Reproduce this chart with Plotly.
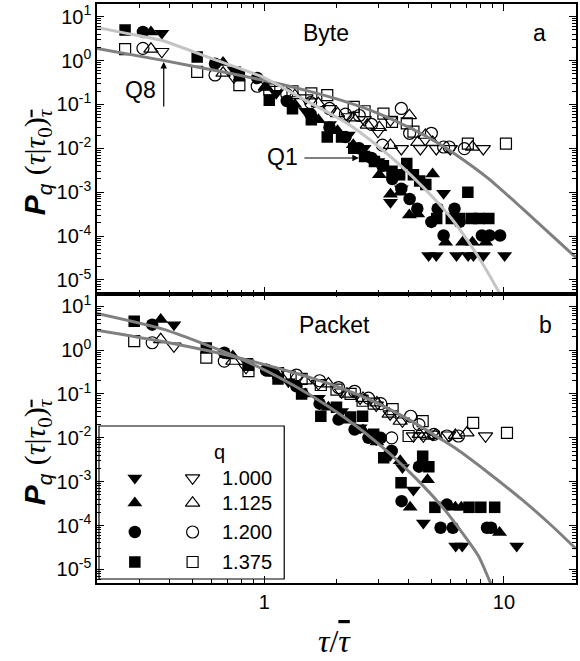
import math
import plotly.graph_objects as go

# ---------------- DATA ----------------
# Panel a: Byte.  Filled = Q1, open = Q8 ; q = 1.000 (down-tri), 1.125 (up-tri), 1.200 (circle), 1.375 (square)
BYTE_F100_X = [0.373, 0.746, 1.12, 1.49, 1.87, 2.24, 2.61, 2.98, 3.36, 3.73, 4.85, 5.22, 5.60, 6.34, 7.09, 7.46, 8.20, 10.07]
BYTE_F100_Y = [4.2, 0.62, 0.18, 0.07, 0.035, 0.02, 0.01, 0.005, 5.9e-4, 1.2e-3, 3.6e-5, 3.6e-5, 9.5e-4, 3.6e-5, 3.6e-5, 3.6e-5, 3.6e-5, 3.6e-5]
BYTE_F1125_X = [0.336, 0.672, 1.01, 1.34, 1.68, 2.02, 2.35, 3.02, 3.36, 3.70, 4.03, 4.37, 5.04, 5.71, 6.72, 7.39, 8.40]
BYTE_F1125_Y = [4.5, 0.9, 0.25, 0.1, 0.045, 0.025, 0.012, 0.0025, 0.0009, 0.001, 0.0003, 0.00032, 0.0026, 7.2e-5, 7.2e-5, 7.2e-5, 7.2e-5]
BYTE_F1200_X = [0.311, 0.622, 0.933, 1.24, 1.56, 1.87, 2.18, 2.49, 2.80, 3.11, 3.42, 3.73, 4.04, 4.35, 4.98, 5.29, 5.60, 6.22, 6.53, 8.09, 8.71, 9.64]
BYTE_F1200_Y = [4.5, 0.85, 0.4, 0.12, 0.06, 0.03, 0.018, 0.01, 0.006, 0.004, 0.002, 0.0012, 0.0007, 0.00042, 0.00021, 0.00042, 0.000103, 0.00042, 0.00021, 0.000103, 0.000103, 0.000103]
BYTE_F1375_X = [0.262, 0.524, 0.786, 1.048, 1.31, 1.57, 1.83, 2.10, 2.36, 2.62, 2.88, 3.14, 3.41, 3.67, 3.93, 4.19, 4.45, 4.72, 5.24, 6.03, 6.55, 7.07, 7.34, 7.86, 8.65]
BYTE_F1375_Y = [5.0, 1.2, 0.45, 0.125, 0.08, 0.045, 0.018, 0.018, 0.01, 0.0065, 0.005, 0.004, 0.003, 0.0025, 0.0045, 0.0025, 0.0018, 0.0015, 0.00025, 0.00025, 0.00025, 0.001, 0.00025, 0.00025, 0.00025]

BYTE_O100_X = [0.373, 0.746, 1.12, 1.49, 1.87, 2.24, 2.61, 2.98, 3.36, 3.73, 4.48, 5.22, 5.97, 8.20]
BYTE_O100_Y = [1.6, 0.42, 0.22, 0.14, 0.08, 0.052, 0.045, 0.024, 0.044, 0.0098, 0.0098, 0.0098, 0.0098, 0.0098]
BYTE_O1125_X = [0.336, 0.672, 1.01, 1.34, 1.68, 2.02, 2.35, 2.69, 3.02, 3.36, 4.03, 4.37, 4.70, 5.04, 7.39]
BYTE_O1125_Y = [1.83, 0.52, 0.25, 0.16, 0.105, 0.062, 0.05, 0.034, 0.03, 0.0118, 0.056, 0.0138, 0.02, 0.0138, 0.0107]
BYTE_O1200_X = [0.311, 0.622, 0.933, 1.24, 1.56, 1.87, 2.18, 2.49, 2.80, 3.11, 3.73, 4.04, 4.98, 5.60, 5.91, 6.84]
BYTE_O1200_Y = [1.9, 0.47, 0.26, 0.17, 0.11, 0.081, 0.06, 0.056, 0.035, 0.0118, 0.081, 0.022, 0.022, 0.0107, 0.0107, 0.0098]
BYTE_O1375_X = [0.262, 0.524, 0.786, 1.048, 1.31, 1.57, 1.83, 2.36, 2.62, 3.14, 3.41, 3.93, 4.19, 7.07, 10.2]
BYTE_O1375_Y = [1.83, 0.55, 0.275, 0.22, 0.2, 0.178, 0.163, 0.088, 0.07, 0.062, 0.04, 0.037, 0.024, 0.0128, 0.0128]

# Panel b: Packet
PKT_F100_X = [0.419, 0.838, 1.26, 1.68, 2.10, 2.51, 2.93, 3.35, 3.77, 4.19, 4.61, 6.29, 6.70, 11.31]
PKT_F100_Y = [3.8, 0.56, 0.19, 0.08, 0.04, 0.017, 0.009, 0.004, 0.0021, 0.00065, 0.000115, 3.4e-5, 3.4e-5, 3.4e-5]
PKT_F1125_X = [0.369, 0.738, 1.11, 1.48, 1.85, 2.21, 2.58, 2.95, 3.32, 3.69, 4.06, 4.80, 6.27, 6.64, 9.59]
PKT_F1125_Y = [5.0, 0.73, 0.3, 0.1, 0.05, 0.025, 0.015, 0.008, 0.005, 0.003, 0.00026, 0.0011, 0.00026, 0.00026, 6.9e-5]
PKT_F1200_X = [0.34, 0.68, 1.02, 1.36, 1.70, 2.04, 2.38, 2.72, 3.06, 3.40, 3.74, 4.42, 5.44, 5.78, 6.12, 8.50, 8.84]
PKT_F1200_Y = [3.8, 0.87, 0.35, 0.15, 0.06, 0.026, 0.0155, 0.01, 0.01, 0.005, 0.00036, 0.0022, 8.9e-5, 0.0003, 8.9e-5, 8.9e-5, 8.9e-5]
PKT_F1375_X = [0.286, 0.572, 0.858, 1.14, 1.43, 1.72, 2.00, 2.29, 2.57, 2.86, 3.15, 3.72, 4.58, 4.86, 5.15, 7.15, 8.01, 9.15]
PKT_F1375_Y = [4.55, 1.12, 0.45, 0.22, 0.1, 0.031, 0.05, 0.03, 0.031, 0.012, 0.0035, 0.00095, 0.0038, 0.0022, 0.00026, 0.00026, 0.00026, 0.00026]

PKT_O100_X = [0.419, 0.838, 1.26, 1.68, 2.10, 2.51, 2.93, 3.35, 3.77, 4.19, 4.61, 5.03, 5.87, 8.38]
PKT_O100_Y = [1.23, 0.4, 0.28, 0.17, 0.11, 0.08, 0.055, 0.035, 0.024, 0.011, 0.011, 0.012, 0.0115, 0.011]
PKT_O1125_X = [0.369, 0.738, 1.11, 1.48, 1.85, 2.21, 2.58, 2.95, 3.32, 3.69, 4.43, 4.80, 5.17, 6.27, 7.01]
PKT_O1125_Y = [1.74, 0.56, 0.3, 0.2, 0.17, 0.1, 0.08, 0.063, 0.035, 0.024, 0.012, 0.011, 0.0115, 0.0115, 0.013]
PKT_O1200_X = [0.34, 0.68, 1.02, 1.36, 1.70, 2.04, 2.38, 2.72, 3.06, 3.40, 4.08, 4.42, 5.10, 5.78, 6.46]
PKT_O1200_Y = [1.47, 0.56, 0.35, 0.27, 0.2, 0.14, 0.115, 0.08, 0.06, 0.01, 0.031, 0.02, 0.012, 0.011, 0.011]
PKT_O1375_X = [0.286, 0.572, 0.858, 1.14, 1.43, 1.72, 2.00, 2.29, 2.57, 2.86, 3.43, 4.00, 4.58, 7.44, 10.3]
PKT_O1375_Y = [1.6, 0.67, 0.33, 0.3, 0.22, 0.16, 0.126, 0.1, 0.07, 0.06, 0.045, 0.011, 0.024, 0.022, 0.013]

# Fitted curves
BYTE_Q1_X = [0.2, 0.266, 0.377, 0.6, 1.0, 1.5, 2.18, 2.99, 4.12, 5.32, 6.25, 8.07, 9.62, 10.2]
BYTE_Q1_Y = [5.7, 4.17, 2.84, 1.12, 0.404, 0.12, 0.0391, 0.011, 0.00236, 5.64e-4, 1.98e-4, 2.56e-5, 4.85e-6, 2.7e-6]
BYTE_Q8_X = [0.2, 0.377, 0.7, 1.0, 1.5, 2.18, 3.0, 4.12, 5.3, 6.24, 8.6, 11.8, 20]
BYTE_Q8_Y = [1.9, 1.01, 0.527, 0.35, 0.2065, 0.116, 0.0621, 0.028, 0.0132, 0.00745, 0.00207, 4.5e-4, 3.23e-5]
PKT_Q1_X = [0.2, 0.38, 0.733, 1.148, 1.578, 2.175, 2.99, 4.12, 5.675, 7.82, 8.75, 9.1]
PKT_Q1_Y = [6.82, 2.96, 0.771, 0.24, 0.0895, 0.0282, 0.00738, 0.00149, 2.25e-4, 2.04e-5, 5.2e-6, 3.3e-6]
PKT_Q8_X = [0.2, 0.38, 0.733, 1.148, 1.58, 2.18, 2.99, 4.12, 5.32, 6.24, 8.6, 11.9, 15.6, 20]
PKT_Q8_Y = [2.84, 1.545, 0.726, 0.38, 0.229, 0.126, 0.06, 0.024, 0.0102, 0.0059, 0.0016, 3.9e-4, 1.07e-4, 2.95e-5]

Q_LABELS = ["1.000", "1.125", "1.200", "1.375"]
SYMBOLS = ["triangle-down", "triangle-up", "circle", "square"]
Y_TICKS = [1e1, 1e0, 1e-1, 1e-2, 1e-3, 1e-4, 1e-5]
Y_TICKTEXT = ["10<sup>1</sup>", "10<sup>0</sup>", "10<sup>-1</sup>", "10<sup>-2</sup>",
              "10<sup>-3</sup>", "10<sup>-4</sup>", "10<sup>-5</sup>"]

# ---------------- LAYOUT CONSTANTS ----------------
W, H = 580, 661
ML, MR, MT, MB = 97, 2, 4, 78
SANS = "Liberation Sans, Arial, sans-serif"
SERIF = "Liberation Serif, Times New Roman, serif"
MSIZE = {"triangle-down": 13, "triangle-up": 13, "circle": 12.5, "square": 11.5}


def px2paper(px, py):
    return (px - ML) / (W - ML - MR), (H - MB - py) / (H - MT - MB)


fig = go.Figure()

panels = [
    ("x", "y",
     [(BYTE_O100_X, BYTE_O100_Y), (BYTE_O1125_X, BYTE_O1125_Y), (BYTE_O1200_X, BYTE_O1200_Y), (BYTE_O1375_X, BYTE_O1375_Y)],
     [(BYTE_F100_X, BYTE_F100_Y), (BYTE_F1125_X, BYTE_F1125_Y), (BYTE_F1200_X, BYTE_F1200_Y), (BYTE_F1375_X, BYTE_F1375_Y)],
     [(BYTE_Q8_X, BYTE_Q8_Y, "#7f7f7f"), (BYTE_Q1_X, BYTE_Q1_Y, "#c4c4c4")]),
    ("x2", "y2",
     [(PKT_O100_X, PKT_O100_Y), (PKT_O1125_X, PKT_O1125_Y), (PKT_O1200_X, PKT_O1200_Y), (PKT_O1375_X, PKT_O1375_Y)],
     [(PKT_F100_X, PKT_F100_Y), (PKT_F1125_X, PKT_F1125_Y), (PKT_F1200_X, PKT_F1200_Y), (PKT_F1375_X, PKT_F1375_Y)],
     [(PKT_Q8_X, PKT_Q8_Y, "#808080"), (PKT_Q1_X, PKT_Q1_Y, "#808080")]),
]

for xa, ya, opens, filleds, curves in panels:
    for (xs, ys), sym in zip(opens, SYMBOLS):
        fig.add_trace(go.Scatter(x=xs, y=ys, mode="markers", xaxis=xa, yaxis=ya, showlegend=False,
                                 marker=dict(symbol=sym + "-open", size=MSIZE[sym] - 0.5, color="black",
                                             line=dict(width=1.2, color="black"))))
    for (xs, ys), sym in zip(filleds, SYMBOLS):
        fig.add_trace(go.Scatter(x=xs, y=ys, mode="markers", xaxis=xa, yaxis=ya, showlegend=False,
                                 marker=dict(symbol=sym, size=MSIZE[sym], color="black",
                                             line=dict(width=0))))
    for xs, ys, col in curves:
        fig.add_trace(go.Scatter(x=xs, y=ys, mode="lines", xaxis=xa, yaxis=ya, showlegend=False,
                                 line=dict(color=col, width=3, shape="spline", smoothing=0.6)))

# legend keys on a pixel-space overlay axis
LEG_ROWS_Y = [478, 503, 532, 562]
LEG_FILLED_X, LEG_OPEN_X, LEG_TEXT_X = 135, 193, 221
for sym, ry in zip(SYMBOLS, LEG_ROWS_Y):
    fig.add_trace(go.Scatter(x=[LEG_FILLED_X], y=[ry], mode="markers", xaxis="x3", yaxis="y3", showlegend=False,
                             marker=dict(symbol=sym, size=MSIZE[sym], color="black", line=dict(width=0))))
    fig.add_trace(go.Scatter(x=[LEG_OPEN_X], y=[ry], mode="markers", xaxis="x3", yaxis="y3", showlegend=False,
                             marker=dict(symbol=sym + "-open", size=MSIZE[sym] - 0.5, color="black",
                                         line=dict(width=1.2, color="black"))))

xr = [math.log10(0.2), math.log10(20)]
yr = [-5.31, 1.29]


def xaxis_cfg(show_labels, anchor):
    return dict(type="log", range=xr, anchor=anchor, domain=[0, 1],
                showline=True, linecolor="black", linewidth=1.5, mirror="allticks",
                ticks="inside", ticklen=7, tickwidth=1.2, tickcolor="black", dtick=1,
                showticklabels=show_labels, tickfont=dict(family=SANS, size=20, color="black"),
                minor=dict(ticks="inside", ticklen=4, tickwidth=1, tickcolor="black", dtick="D1", showgrid=False),
                showgrid=False, zeroline=False)


def yaxis_cfg(domain, anchor):
    return dict(type="log", range=yr, anchor=anchor, domain=domain,
                showline=True, linecolor="black", linewidth=1.5, mirror="allticks",
                ticks="inside", ticklen=7, tickwidth=1.2, tickcolor="black",
                tickvals=Y_TICKS, ticktext=Y_TICKTEXT,
                tickfont=dict(family=SANS, size=20, color="black"),
                minor=dict(ticks="inside", ticklen=4, tickwidth=1, tickcolor="black", dtick="D1", showgrid=False),
                showgrid=False, zeroline=False)


fig.update_layout(
    width=W, height=H, margin=dict(l=ML, r=MR, t=MT, b=MB),
    paper_bgcolor="white", plot_bgcolor="rgba(0,0,0,0)",
    xaxis=xaxis_cfg(False, "y"),
    yaxis=yaxis_cfg([0.5, 1.0], "x"),
    xaxis2=xaxis_cfg(True, "y2"),
    yaxis2=yaxis_cfg([0.0, 0.5], "x2"),
    xaxis3=dict(range=[ML, W - MR], domain=[0, 1], anchor="y3", visible=False, fixedrange=True),
    yaxis3=dict(range=[H - MB, MT], domain=[0, 1], anchor="x3", visible=False, fixedrange=True),
    showlegend=False,
)

# legend box
bx0, by0 = px2paper(99, 579)
bx1, by1 = px2paper(285, 426)
fig.add_shape(type="rect", xref="paper", yref="paper", x0=bx0, x1=bx1, y0=by0, y1=by1,
              line=dict(color="black", width=1.2), fillcolor="white", layer="below")

ann = []


def txt(px, py, s, size=22, family=SANS, angle=0, xanchor="center"):
    x, y = px2paper(px, py)
    ann.append(dict(x=x, y=y, xref="paper", yref="paper", text=s, showarrow=False, textangle=angle,
                    xanchor=xanchor, yanchor="middle", font=dict(family=family, size=size, color="black")))


txt(220, 452, "q", 20)
for lab, ry in zip(Q_LABELS, LEG_ROWS_Y):
    txt(LEG_TEXT_X, ry, lab, 20, xanchor="left")

txt(327, 33, "Byte", 23)
txt(541, 33, "a", 23)
txt(335, 325, "Packet", 23)
txt(547, 325, "b", 23)
txt(141, 90, "Q8", 23)
txt(283, 157, "Q1", 23)

TAU_BAR = '<span style="text-decoration:overline">τ</span>'
ytitle = ('<b><i>P</i></b><sub><i>q</i></sub> '
          '<span style="font-family:Liberation Serif">(<i>τ</i>|<i>τ</i><sub>0</sub>)<sub><i>'
          + TAU_BAR + '</i></sub></span>')
txt(37, 162, ytitle, 30, angle=-90)
txt(37, 452, ytitle, 30, angle=-90)
txt(335, 641, "<i>τ</i>/<i>" + TAU_BAR + "</i>", 32, family=SERIF)


def arrow(hx, hy, tx, ty):
    x, y = px2paper(hx, hy)
    ann.append(dict(x=x, y=y, xref="paper", yref="paper", ax=tx - hx, ay=ty - hy,
                    text="", showarrow=True, arrowhead=2, arrowsize=1.1, arrowwidth=1.2, arrowcolor="black"))


arrow(164, 62, 164, 108)
arrow(360, 158, 304, 158)

fig.update_layout(annotations=ann)
fig.write_html("out.html")
